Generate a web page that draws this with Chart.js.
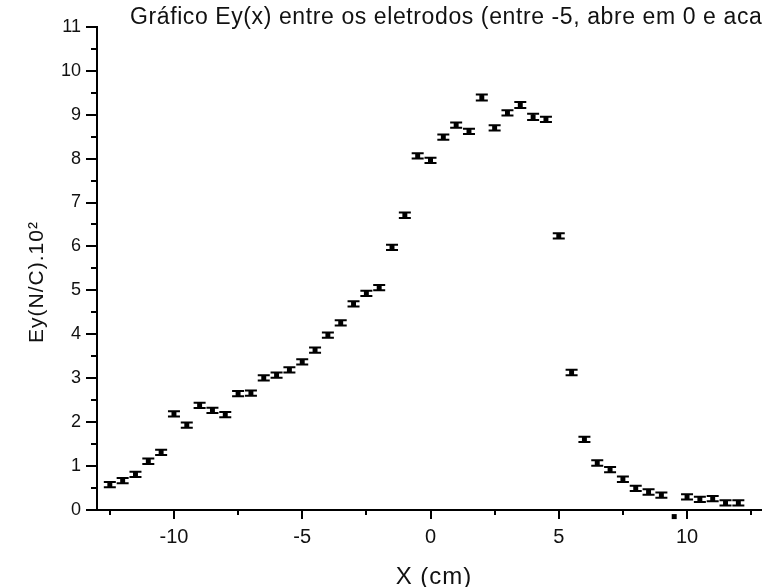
<!DOCTYPE html>
<html>
<head>
<meta charset="utf-8">
<title>Gráfico Ey(x)</title>
<script src="https://cdn.jsdelivr.net/npm/chart.js@4.4.0/dist/chart.umd.min.js"></script>
<style>
    html, body { margin: 0; padding: 0; background: #fff; overflow: hidden; }
    #wrap { width: 800px; height: 587px; }
</style>
</head>
<body>
<div id="wrap"><canvas id="eyChart" width="800" height="587"></canvas></div>
<script>
// Data
const xValues = [-12.5, -12, -11.5, -11, -10.5, -10, -9.5, -9, -8.5, -8,
    -7.5, -7, -6.5, -6, -5.5, -5, -4.5, -4, -3.5, -3,
    -2.5, -2, -1.5, -1, -0.5, 0, 0.5, 1, 1.5, 2,
    2.5, 3, 3.5, 4, 4.5, 5, 5.5, 6, 6.5, 7,
    7.5, 8, 8.5, 9, 9.5, 10, 10.5, 11, 11.5, 12];
const eyValues = [0.58, 0.67, 0.81, 1.11, 1.31, 2.19, 1.93, 2.38, 2.27, 2.17,
    2.65, 2.66, 3.01, 3.07, 3.19, 3.37, 3.64, 3.98, 4.26, 4.69,
    4.93, 5.06, 5.98, 6.71, 8.06, 7.96, 8.49, 8.76, 8.62, 9.39,
    8.70, 9.04, 9.22, 8.95, 8.89, 6.24, 3.13, 1.61, 1.07, 0.92,
    0.70, 0.49, 0.41, 0.34, -0.15, 0.30, 0.24, 0.26, 0.16, 0.16];
const eyErrors = [0.06, 0.06, 0.06, 0.06, 0.06, 0.06, 0.06, 0.06, 0.06, 0.06,
    0.06, 0.06, 0.06, 0.06, 0.06, 0.06, 0.06, 0.06, 0.06, 0.06,
    0.06, 0.06, 0.06, 0.06, 0.06, 0.06, 0.06, 0.06, 0.06, 0.07,
    0.06, 0.06, 0.07, 0.07, 0.06, 0.06, 0.06, 0.06, 0.06, 0.06,
    0.06, 0.06, 0.06, 0.06, 0, 0.06, 0.06, 0.06, 0.06, 0.06];
const xTicks = [-12.5, -10, -7.5, -5, -2.5, 0, 2.5, 5, 7.5, 10, 12.5];
const yTicks = [0, 0.5, 1, 1.5, 2, 2.5, 3, 3.5, 4, 4.5, 5, 5.5,
    6, 6.5, 7, 7.5, 8, 8.5, 9, 9.5, 10, 10.5, 11];

const chartTitle = 'Gráfico Ey(x) entre os eletrodos (entre -5, abre em 0 e acaba em 5)';
const xTitle = 'X (cm)';
const yTitle = 'Ey(N/C).10²';

const points = xValues.map((x, i) => ({ x: x, y: eyValues[i] }));

// Error bars on top of the square markers
const errorBars = {
    id: 'errorBars',
    afterDatasetsDraw(chart) {
        const ctx = chart.ctx;
        const yScale = chart.scales.y;
        const area = chart.chartArea;
        const meta = chart.getDatasetMeta(0);
        ctx.save();
        ctx.strokeStyle = '#000';
        ctx.fillStyle = '#000';
        ctx.lineWidth = 2;
        meta.data.forEach((pt, i) => {
            // chart.js skips points outside the area, draw those here
            if (pt.y > area.bottom) {
                ctx.fillRect(pt.x - 2.5, pt.y - 2.5, 5, 5);
            }
            const err = eyErrors[i];
            if (!err) return;
            const top = yScale.getPixelForValue(eyValues[i] + err);
            const bot = yScale.getPixelForValue(eyValues[i] - err);
            ctx.beginPath();
            ctx.moveTo(pt.x, top);
            ctx.lineTo(pt.x, bot);
            ctx.moveTo(pt.x - 6, top);
            ctx.lineTo(pt.x + 6, top);
            ctx.moveTo(pt.x - 6, bot);
            ctx.lineTo(pt.x + 6, bot);
            ctx.stroke();
        });
        ctx.restore();
    }
};

// Outward tick marks (major / minor) and the text labels
const axisDecor = {
    id: 'axisDecor',
    afterDraw(chart) {
        const ctx = chart.ctx;
        const area = chart.chartArea;
        const xs = chart.scales.x;
        const ys = chart.scales.y;
        ctx.save();
        ctx.strokeStyle = '#000';
        ctx.lineWidth = 2;
        ctx.beginPath();
        xTicks.forEach(v => {
            const px = Math.round(xs.getPixelForValue(v));
            const len = v % 5 === 0 ? 9 : 5;
            ctx.moveTo(px, area.bottom);
            ctx.lineTo(px, area.bottom + len);
        });
        yTicks.forEach(v => {
            const py = Math.round(ys.getPixelForValue(v));
            const len = Number.isInteger(v) ? 11 : 6;
            ctx.moveTo(area.left - len, py);
            ctx.lineTo(area.left, py);
        });
        ctx.stroke();

        ctx.fillStyle = '#111';
        ctx.textBaseline = 'alphabetic';

        ctx.font = '23px "Liberation Sans", Arial, sans-serif';
        ctx.letterSpacing = '0.6px';
        ctx.textAlign = 'left';
        ctx.fillText(chartTitle, 130, 24);

        ctx.font = '24px "Liberation Sans", Arial, sans-serif';
        ctx.letterSpacing = '1px';
        ctx.textAlign = 'center';
        ctx.fillText(xTitle, 434, 584);

        ctx.font = '21px "Liberation Sans", Arial, sans-serif';
        ctx.letterSpacing = '1px';
        ctx.translate(43, 282);
        ctx.rotate(-Math.PI / 2);
        ctx.fillText(yTitle, 0, 0);
        ctx.restore();
    }
};

const ctx = document.getElementById('eyChart').getContext('2d');
new Chart(ctx, {
    type: 'scatter',
    data: {
        datasets: [{
            label: 'Ey',
            data: points,
            pointStyle: 'rect',
            pointRadius: 3.5,
            backgroundColor: '#000',
            borderWidth: 0,
            clip: false
        }]
    },
    options: {
        responsive: false,
        animation: false,
        devicePixelRatio: 1,
        layout: { padding: { left: 0, top: 21, right: 36, bottom: 0 } },
        plugins: {
            legend: { display: false },
            tooltip: { enabled: false },
            title: { display: false }
        },
        scales: {
            x: {
                type: 'linear',
                min: -13,
                max: 13,
                afterBuildTicks: scale => { scale.ticks = xTicks.map(v => ({ value: v })); },
                afterFit: scale => { scale.height = 77; },
                grid: { display: true, drawOnChartArea: false, drawTicks: false },
                border: { display: true, color: '#000', width: 2 },
                ticks: {
                    autoSkip: false,
                    maxRotation: 0,
                    padding: 15,
                    color: '#111',
                    font: { family: '"Liberation Sans", Arial, sans-serif', size: 20 },
                    callback: v => (v % 5 === 0 ? String(v) : '')
                }
            },
            y: {
                type: 'linear',
                min: 0,
                max: 11,
                afterBuildTicks: scale => { scale.ticks = yTicks.map(v => ({ value: v })); },
                afterFit: scale => { scale.width = 97; },
                grid: { display: true, drawOnChartArea: false, drawTicks: false },
                border: { display: true, color: '#000', width: 2 },
                ticks: {
                    autoSkip: false,
                    padding: 16,
                    color: '#111',
                    font: { family: '"Liberation Sans", Arial, sans-serif', size: 18 },
                    callback: v => (Number.isInteger(v) ? String(v) : '')
                }
            }
        }
    },
    plugins: [errorBars, axisDecor]
});
</script>
</body>
</html>
